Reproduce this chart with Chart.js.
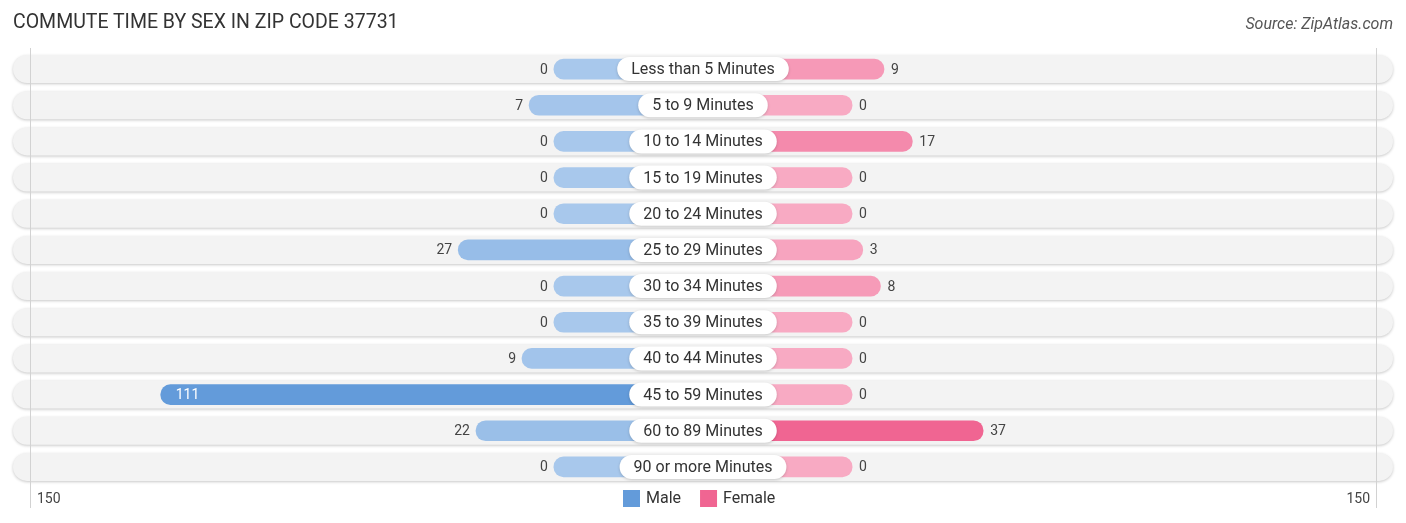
<!DOCTYPE html>
<html lang="en">
<head>
<meta charset="UTF-8">
<title>Commute Time by Sex in Zip Code 37731</title>
<script src="https://cdn.jsdelivr.net/npm/chart.js"></script>
<style>
  body { margin: 0; background: #fff; font-family: Roboto, "Noto Sans", sans-serif; }
  #wrap { position: relative; width: 1406px; height: 523px; }
  #title { position: absolute; left: 13px; top: 10px; font-size: 19.5px; color: #333; }
  #source { position: absolute; right: 13px; top: 14px; font-size: 16px; font-style: italic; color: #555; }
  canvas { position: absolute; left: 0; top: 0; }
</style>
</head>
<body>
<div id="wrap">
  <canvas id="myChart" width="1406" height="523"></canvas>
  <div id="title">COMMUTE TIME BY SEX IN ZIP CODE 37731</div>
  <div id="source">Source: ZipAtlas.com</div>
</div>
<script>
const categories = ['Less than 5 Minutes', '5 to 9 Minutes', '10 to 14 Minutes', '15 to 19 Minutes',
  '20 to 24 Minutes', '25 to 29 Minutes', '30 to 34 Minutes', '35 to 39 Minutes',
  '40 to 44 Minutes', '45 to 59 Minutes', '60 to 89 Minutes', '90 or more Minutes'];
const maleValues = [0, 7, 0, 0, 0, 27, 0, 0, 9, 111, 22, 0];
const femaleValues = [9, 0, 17, 0, 0, 3, 8, 0, 0, 0, 37, 0];
const axisTickLabels = ['150', '150'];

// bars start under the centre label, so every bar gets this base length
const pad = 42.1;
const axisLimit = 190;

function mix(a, b, t) {
  return 'rgb(' + a.map((c, i) => Math.round(c + (b[i] - c) * t)).join(',') + ')';
}
const maleLight = [168, 200, 236], maleDark = [99, 155, 218];
const femaleLight = [248, 170, 195], femaleDark = [240, 101, 146];
const maleMax = Math.max(...maleValues), femaleMax = Math.max(...femaleValues);

const rowPlugin = {
  id: 'rows',
  beforeDatasetsDraw(chart) {
    const ctx = chart.ctx, y = chart.scales.y, area = chart.chartArea;
    ctx.save();
    categories.forEach((c, i) => {
      const cy = y.getPixelForValue(i);
      ctx.save();
      ctx.shadowColor = 'rgba(0,0,0,0.22)';
      ctx.shadowBlur = 3;
      ctx.shadowOffsetY = 1;
      ctx.fillStyle = '#f3f3f3';
      ctx.beginPath();
      ctx.roundRect(area.left - 17, cy - 14, area.right - area.left + 34, 28, 14);
      ctx.fill();
      ctx.restore();
    });
    // grid lines at the axis ends
    ctx.strokeStyle = '#d2d2d2';
    ctx.lineWidth = 1;
    [area.left, area.right].forEach(x => {
      ctx.beginPath();
      ctx.moveTo(x + 0.5, area.top - 3);
      ctx.lineTo(x + 0.5, area.bottom + 23);
      ctx.stroke();
    });
    ctx.restore();
  },
  afterDatasetsDraw(chart) {
    const ctx = chart.ctx, x = chart.scales.x, y = chart.scales.y, area = chart.chartArea;
    const cx = x.getPixelForValue(0);
    ctx.save();
    ctx.textBaseline = 'middle';
    categories.forEach((c, i) => {
      const cy = y.getPixelForValue(i);
      // centre label pill
      ctx.font = '16px Roboto';
      const w = ctx.measureText(c).width + 28;
      ctx.save();
      ctx.shadowColor = 'rgba(0,0,0,0.18)';
      ctx.shadowBlur = 3;
      ctx.shadowOffsetY = 1;
      ctx.fillStyle = '#fff';
      ctx.beginPath();
      ctx.roundRect(cx - w / 2, cy - 12, w, 24, 12);
      ctx.fill();
      ctx.restore();
      ctx.fillStyle = '#333';
      ctx.textAlign = 'center';
      ctx.fillText(c, cx, cy + 1);

      // values
      ctx.font = '14px Roboto';
      const mEnd = x.getPixelForValue(-(maleValues[i] + pad));
      if (maleValues[i] > 60) {
        ctx.fillStyle = '#fff';
        ctx.textAlign = 'left';
        ctx.fillText(String(maleValues[i]), mEnd + 15, cy + 1);
      } else {
        ctx.fillStyle = '#444';
        ctx.textAlign = 'right';
        ctx.fillText(String(maleValues[i]), mEnd - 6, cy + 1);
      }
      const fEnd = x.getPixelForValue(femaleValues[i] + pad);
      ctx.fillStyle = '#444';
      ctx.textAlign = 'left';
      ctx.fillText(String(femaleValues[i]), fEnd + 7, cy + 1);
    });

    // axis end labels
    ctx.font = '14px Roboto';
    ctx.fillStyle = '#444';
    ctx.textAlign = 'left';
    ctx.fillText(axisTickLabels[0], area.left + 7, 499);
    ctx.textAlign = 'right';
    ctx.fillText(axisTickLabels[1], area.right - 6, 499);

    // legend
    ctx.font = '16px Roboto';
    const items = chart.data.datasets.map(d => ({ label: d.label, color: d.legendColor }));
    let lx = 623;
    items.forEach(it => {
      ctx.fillStyle = it.color;
      ctx.fillRect(lx, 490, 17, 17);
      ctx.fillStyle = '#333';
      ctx.textAlign = 'left';
      ctx.fillText(it.label, lx + 23, 499);
      lx += 23 + ctx.measureText(it.label).width + 19;
    });
    ctx.restore();
  }
};

new Chart(document.getElementById('myChart'), {
  type: 'bar',
  data: {
    labels: categories,
    datasets: [{
      label: 'Male',
      data: maleValues.map(v => [-(v + pad), 0]),
      backgroundColor: maleValues.map(v => mix(maleLight, maleDark, v / maleMax)),
      legendColor: 'rgb(99,155,218)',
      borderRadius: 10,
      borderSkipped: false,
      barThickness: 20,
      grouped: false
    }, {
      label: 'Female',
      data: femaleValues.map(v => [0, v + pad]),
      backgroundColor: femaleValues.map(v => mix(femaleLight, femaleDark, v / femaleMax)),
      legendColor: 'rgb(240,101,146)',
      borderRadius: 10,
      borderSkipped: false,
      barThickness: 20,
      grouped: false
    }]
  },
  options: {
    indexAxis: 'y',
    responsive: false,
    animation: false,
    layout: { padding: { left: 30, right: 30, top: 51, bottom: 38 } },
    scales: {
      x: { display: false, min: -axisLimit, max: axisLimit },
      y: { display: false }
    },
    plugins: { legend: { display: false }, tooltip: { enabled: false } }
  },
  plugins: [rowPlugin]
});
</script>
</body>
</html>
